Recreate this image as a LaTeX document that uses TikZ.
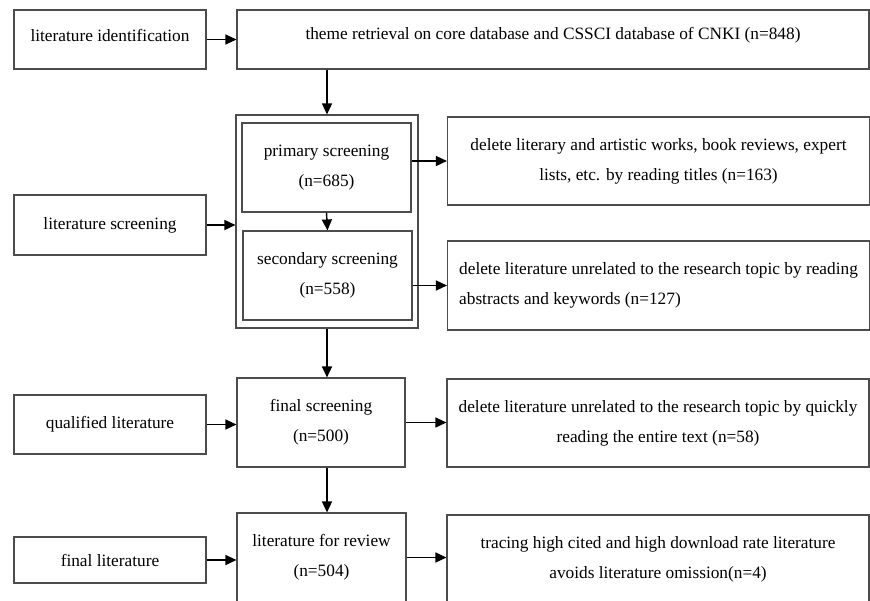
\documentclass[tikz,border=0pt]{standalone}
\usepackage{fontspec}
\setmainfont{Liberation Serif}
\usetikzlibrary{arrows.meta}

\newcommand{\upshift}[1]{\raisebox{4pt}[\height][\depth]{#1}}

\begin{document}
\begin{tikzpicture}[
        x=1pt, y=-1pt,
        line join=miter,
        box/.style={draw=black!70, line width=1.1pt, inner sep=2pt, align=center,
            font=\fontsize{17.3}{30}\selectfont},
        arr/.style={line width=1.4pt, -{Triangle[length=11pt, width=10pt]}}
    ]
        \useasboundingbox (0,0) rectangle (870,600);
        \clip (0,0) rectangle (870,600);

        % left column
        \node[box, minimum width=192pt, minimum height=59pt] (ident) at (110,39.5) {\upshift{literature identification}};
        \node[box, minimum width=192pt, minimum height=60pt] (screen) at (110,225) {literature screening};
        \node[box, minimum width=192pt, minimum height=59pt] (qual) at (110,424.5) {qualified literature};
        \node[box, minimum width=192pt, minimum height=46pt] (flit) at (110,560) {final literature};

        % middle column
        \node[box, minimum width=632pt, minimum height=59pt] (theme) at (553,39.5) {\upshift{theme retrieval on core database and CSSCI database of CNKI (n=848)}};
        \node[box, minimum width=182pt, minimum height=213pt] (outer) at (327,221.5) {};
        \node[box, minimum width=169pt, minimum height=89pt] (prim) at (326.5,167.5) {primary screening\\(n=685)};
        \node[box, minimum width=169pt, minimum height=89pt] (sec) at (327.5,275.5) {secondary screening\\(n=558)};
        \node[box, minimum width=168pt, minimum height=89pt] (final) at (321,422.5) {final screening\\(n=500)};
        \node[box, minimum width=169pt, minimum height=89pt] (review) at (321.5,557.5) {literature for review\\(n=504)};

        % right column
        \node[box, minimum width=422pt, minimum height=88pt] (del1) at (658.5,161) {delete literary and artistic works, book reviews, expert\\lists, etc. by reading titles (n=163)};
        \node[box, minimum width=422pt, minimum height=89pt, align=left] (del2) at (658.5,285.5) {delete literature unrelated to the research topic by reading\\abstracts and keywords (n=127)};
        \node[box, minimum width=422pt, minimum height=88pt] (del3) at (658,423) {delete literature unrelated to the research topic by quickly\\reading the entire text (n=58)};
        \node[box, minimum width=422pt, minimum height=89pt] (del4) at (658,559.5) {tracing high cited and high download rate literature\\avoids literature omission(n=4)};

        % arrows
        \draw[arr] (ident.east) -- (ident.east -| theme.west);
        \draw[arr] (outer.north |- theme.south) -- (outer.north);
        \draw[arr] (prim.south) -- (sec.north);
        \draw[arr] (del1.west -| prim.east) -- (del1.west);
        \draw[arr] (sec.east |- del2.west) -- (del2.west);
        \draw[arr] (screen.east) -- (screen.east -| outer.west);
        \draw[arr] (outer.south) -- (outer.south |- final.north);
        \draw[arr] (qual.east) -- (qual.east -| final.west);
        \draw[arr] (final.east) -- (final.east -| del3.west);
        \draw[arr] (outer.south |- final.south) -- (outer.south |- review.north);
        \draw[arr] (flit.east) -- (flit.east -| review.west);
        \draw[arr] (review.east) -- (review.east -| del4.west);
    \end{tikzpicture}
\end{document}
